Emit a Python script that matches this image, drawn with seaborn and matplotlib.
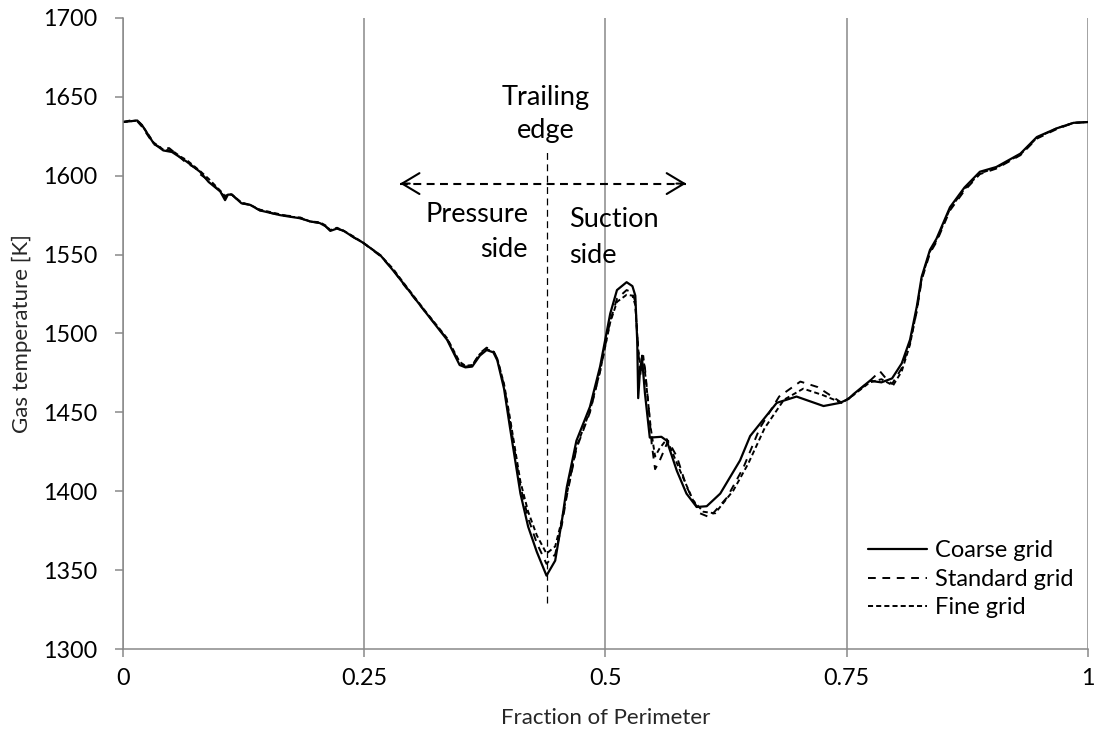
import matplotlib
matplotlib.use("Agg")
import matplotlib.pyplot as plt
import seaborn as sns
import pandas as pd

# Gas temperature along the blade perimeter for three mesh resolutions
x_coarse = [0.000, 0.008, 0.015, 0.020, 0.032, 0.042, 0.051, 0.066, 0.080, 0.089,
            0.101, 0.106, 0.109, 0.113, 0.123, 0.132, 0.142, 0.163, 0.173, 0.184,
            0.194, 0.204, 0.210, 0.215, 0.222, 0.229, 0.239, 0.249, 0.267, 0.280,
            0.291, 0.313, 0.336, 0.349, 0.355, 0.362, 0.370, 0.377, 0.384, 0.388,
            0.395, 0.401, 0.412, 0.420, 0.429, 0.439, 0.448, 0.455, 0.460, 0.470,
            0.484, 0.4945, 0.505, 0.512, 0.522, 0.528, 0.531, 0.533, 0.534, 0.536,
            0.538, 0.541, 0.546, 0.558, 0.5636, 0.574, 0.584, 0.5946, 0.605, 0.619,
            0.6395, 0.650, 0.6775, 0.698, 0.712, 0.726, 0.743, 0.752, 0.757, 0.774,
            0.786, 0.797, 0.807, 0.8156, 0.8226, 0.8277, 0.8363, 0.843, 0.857, 0.872,
            0.888, 0.905, 0.930, 0.947, 0.9675, 0.985, 1.000]
t_coarse = [1634, 1634.5, 1635, 1632, 1620.5, 1616, 1615, 1609, 1602.5, 1596,
            1590, 1584.5, 1588, 1588, 1582.5, 1581.5, 1578, 1575, 1574, 1573,
            1571, 1570, 1568, 1565, 1566.5, 1565, 1561, 1557.5, 1549.5, 1540,
            1531.5, 1514, 1496, 1480, 1478.5, 1479, 1486, 1489.5, 1488, 1483,
            1465, 1441, 1398.5, 1377.5, 1361.5, 1346.5, 1356, 1381.5, 1402.5, 1432,
            1453.5, 1479, 1512.5, 1527.5, 1532.5, 1530, 1524, 1495, 1459, 1478,
            1484, 1462, 1434, 1434.5, 1432, 1413, 1398.5, 1390, 1390.5, 1398.5,
            1419.5, 1435, 1456, 1460, 1457, 1454, 1456, 1458.5, 1461.5, 1470,
            1469, 1471.5, 1481, 1496, 1517, 1536, 1553, 1560, 1580, 1592.5,
            1602.5, 1605.5, 1614, 1624.5, 1630, 1633.5, 1634]

x_standard = [0.000, 0.008, 0.015, 0.020, 0.032, 0.042, 0.048, 0.055, 0.066, 0.075,
              0.080, 0.089, 0.101, 0.106, 0.109, 0.113, 0.123, 0.132, 0.142, 0.163,
              0.173, 0.184, 0.194, 0.204, 0.210, 0.215, 0.222, 0.229, 0.239, 0.249,
              0.267, 0.280, 0.291, 0.313, 0.336, 0.349, 0.355, 0.362, 0.370, 0.377,
              0.384, 0.388, 0.395, 0.401, 0.412, 0.420, 0.429, 0.439, 0.448, 0.455,
              0.460, 0.470, 0.484, 0.4945, 0.505, 0.512, 0.522, 0.528, 0.531, 0.533,
              0.536, 0.538, 0.541, 0.545, 0.548, 0.5515, 0.556, 0.565, 0.574, 0.584,
              0.598, 0.608, 0.626, 0.643, 0.660, 0.680, 0.702, 0.720, 0.745, 0.757,
              0.774, 0.7845, 0.790, 0.797, 0.807, 0.8156, 0.8226, 0.8277, 0.8363, 0.843,
              0.857, 0.872, 0.888, 0.905, 0.930, 0.947, 0.9675, 0.985, 1.000]
t_standard = [1634, 1635, 1634.5, 1631, 1620, 1617, 1617.5, 1614, 1608, 1605,
              1601, 1597, 1590, 1586, 1589, 1588, 1582.5, 1581.5, 1578, 1575,
              1574.5, 1573, 1571, 1570, 1568, 1565.5, 1566.5, 1565, 1561, 1557.5,
              1549, 1540.5, 1531, 1514, 1496.5, 1481, 1479, 1479.5, 1487.5, 1491,
              1489, 1484, 1467, 1445, 1403, 1383, 1367, 1354, 1360, 1379,
              1397, 1427, 1450, 1476, 1508, 1522, 1527.5, 1526, 1520, 1500,
              1472, 1486, 1478, 1452, 1430, 1414, 1419, 1432, 1422, 1403,
              1386, 1383.5, 1396, 1415, 1440, 1460, 1469.5, 1466, 1456, 1461,
              1470, 1476, 1472, 1468, 1478, 1494, 1514, 1534, 1551, 1558,
              1578, 1590.5, 1601, 1604.5, 1613, 1623.5, 1629.5, 1633.5, 1634]

x_fine = [0.000, 0.008, 0.015, 0.020, 0.032, 0.042, 0.051, 0.060, 0.066, 0.080,
          0.089, 0.101, 0.106, 0.109, 0.113, 0.123, 0.132, 0.142, 0.163, 0.173,
          0.184, 0.194, 0.204, 0.210, 0.215, 0.222, 0.229, 0.239, 0.249, 0.267,
          0.280, 0.291, 0.313, 0.336, 0.349, 0.355, 0.362, 0.370, 0.377, 0.384,
          0.388, 0.395, 0.401, 0.412, 0.420, 0.429, 0.439, 0.448, 0.455, 0.460,
          0.470, 0.484, 0.4945, 0.505, 0.512, 0.522, 0.528, 0.531, 0.534, 0.537,
          0.539, 0.542, 0.547, 0.5515, 0.556, 0.5636, 0.5774, 0.591, 0.6015, 0.6136,
          0.6326, 0.648, 0.665, 0.685, 0.705, 0.725, 0.745, 0.757, 0.774, 0.786,
          0.798, 0.807, 0.8156, 0.8226, 0.8277, 0.8363, 0.843, 0.857, 0.872, 0.888,
          0.905, 0.930, 0.947, 0.9675, 0.985, 1.000]
t_fine = [1634, 1634.5, 1635, 1632, 1621, 1616.5, 1616, 1612, 1610, 1603,
          1598, 1590.5, 1587, 1588.5, 1588, 1583, 1581.5, 1578.5, 1575.5, 1574,
          1573.5, 1571, 1570.5, 1568.5, 1565.5, 1567, 1565, 1561.5, 1557.5, 1549.5,
          1541, 1532, 1514.5, 1497, 1482, 1479.5, 1480, 1487, 1490, 1488.5,
          1484, 1468, 1447, 1406, 1387, 1372, 1360.5, 1365, 1382, 1398,
          1428, 1451, 1476, 1507, 1520, 1524.5, 1524, 1518, 1490, 1476,
          1487, 1470, 1440, 1422, 1427, 1433, 1413, 1394, 1387, 1386,
          1400.5, 1417.5, 1440, 1458, 1465, 1461, 1456, 1461, 1469, 1471,
          1467, 1476, 1493, 1515, 1535, 1552, 1559, 1579, 1591.5, 1601.5,
          1605, 1613.5, 1624, 1630, 1633.5, 1634]

series_labels = ["Coarse grid", "Standard grid", "Fine grid"]
x_ticks = [0, 0.25, 0.5, 0.75, 1]
x_tick_labels = ["0", "0.25", "0.5", "0.75", "1"]
y_ticks = [1300, 1350, 1400, 1450, 1500, 1550, 1600, 1650, 1700]

trailing_edge_x = 0.44
side_arrow_x = [0.2873, 0.5836]
side_arrow_t = 1595

sns.set_style("ticks")
plt.rcParams["font.family"] = ["Lato", "DejaVu Sans"]
plt.rcParams["text.color"] = "black"

GRID = "#898989"
NOTE_SIZE = 19.5

fig = plt.figure(figsize=(10.97, 7.34), dpi=100)
ax = fig.add_axes([0.1119, 0.1158, 0.9918 - 0.1119, 0.9756 - 0.1158])

frames = [
    pd.DataFrame({"x": x_coarse, "t": t_coarse}),
    pd.DataFrame({"x": x_standard, "t": t_standard}),
    pd.DataFrame({"x": x_fine, "t": t_fine}),
]
styles = [
    dict(linestyle="-", linewidth=1.6),
    dict(linestyle=(0, (4.0, 3.4)), linewidth=1.4),
    dict(linestyle=(0, (2.6, 1.6)), linewidth=1.4),
]
for df, lab, st in zip(frames, series_labels, styles):
    sns.lineplot(data=df, x="x", y="t", ax=ax, color="black", sort=False,
                 estimator=None, label=lab, **st)

ax.set_xlim(0, 1)
ax.set_ylim(1300, 1700)
ax.set_xticks(x_ticks)
ax.set_xticklabels(x_tick_labels)
ax.set_yticks(y_ticks)

# vertical grid only, plus grey left/bottom spines
ax.grid(axis="x", color=GRID, linewidth=1.1)
ax.grid(axis="y", visible=False)
for side in ["top", "right"]:
    ax.spines[side].set_visible(False)
for side in ["left", "bottom"]:
    ax.spines[side].set_color(GRID)
    ax.spines[side].set_linewidth(1.1)
ax.tick_params(axis="both", direction="out", length=5.5, width=1.1, color=GRID,
               labelsize=16.8, labelcolor="black")
ax.tick_params(axis="y", pad=13)
ax.tick_params(axis="x", pad=8)

ax.set_xlabel("Fraction of Perimeter", fontsize=16, labelpad=14)
ax.set_ylabel("Gas temperature [K]", fontsize=16, labelpad=8)

# trailing edge marker
ax.plot([trailing_edge_x, trailing_edge_x], [1329, 1617], color="black",
        linewidth=0.9, linestyle=(0, (5.5, 3.6)), zorder=1)
ax.text(0.4378, 1644.8, "Trailing", ha="center", va="baseline", fontsize=NOTE_SIZE)
ax.text(0.4378, 1623.8, "edge", ha="center", va="baseline", fontsize=NOTE_SIZE)

# pressure/suction side double arrow
ax.plot(side_arrow_x, [side_arrow_t, side_arrow_t], color="black", linewidth=1.5,
        linestyle=(0, (3.8, 2.6)), zorder=1)
for tip, tail in [(side_arrow_x[0], side_arrow_x[0] + 0.01),
                  (side_arrow_x[1], side_arrow_x[1] - 0.01)]:
    ax.annotate("", xy=(tip, side_arrow_t), xytext=(tail, side_arrow_t),
                arrowprops=dict(arrowstyle="->,head_length=1.25,head_width=0.75",
                                color="black", lw=1.5, shrinkA=0, shrinkB=0,
                                mutation_scale=10))
ax.text(0.4199, 1570.8, "Pressure", ha="right", va="baseline", fontsize=NOTE_SIZE)
ax.text(0.4199, 1548.6, "side", ha="right", va="baseline", fontsize=NOTE_SIZE)
ax.text(0.4627, 1567.2, "Suction", ha="left", va="baseline", fontsize=NOTE_SIZE)
ax.text(0.4627, 1544.8, "side", ha="left", va="baseline", fontsize=NOTE_SIZE)

leg = ax.legend(loc="lower right", bbox_to_anchor=(1.0, 0.026), frameon=False,
                fontsize=17, handlelength=2.5, handletextpad=0.35,
                labelspacing=0.32, borderaxespad=0.2)

fig.savefig("out.png", dpi=100)
